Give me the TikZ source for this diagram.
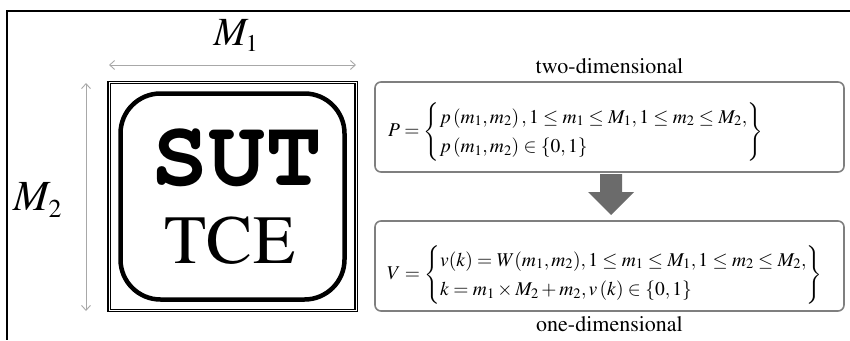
\documentclass[tikz,border=0pt]{standalone}
\usepackage[T1]{fontenc}
\usepackage{mathptmx}
\usetikzlibrary{arrows.meta,positioning}
\definecolor{dimgray}{HTML}{A8A8A8}
\definecolor{boxgray}{HTML}{7F7F7F}
\definecolor{arrowgray}{HTML}{6B6B6B}
\renewcommand{\arraystretch}{1.3}

\begin{document}
\begin{tikzpicture}[x=1pt, y=-1pt,
    dimarrow/.style={{Straight Barb[length=5pt,width=9pt]}-{Straight Barb[length=5pt,width=9pt]},
                     draw=dimgray, line width=0.9pt},
    eqbox/.style={draw=boxgray, line width=1.6pt, rounded corners=6pt,
                  minimum width=469pt, minimum height=90pt, inner sep=0pt},
    caption/.style={font=\fontsize{22}{26}\selectfont, inner sep=0pt},
    dimlabel/.style={font=\fontsize{40}{44}\selectfont, inner sep=0pt},
    formula/.style={font=\fontsize{19.5}{23}\selectfont, anchor=west, inner sep=0pt},
]
\useasboundingbox (0,0) rectangle (850,340);
\draw[line width=2.5pt] (850,11) -- (7,11) -- (7,340);

% the binary image
\node[draw, double=white, double distance=1pt, line width=1.2pt,
      minimum width=247pt, minimum height=228pt, inner sep=0pt] (img) at (232.5,196.5) {};
\node[draw, line width=4.5pt, rounded corners=40pt, minimum width=224pt,
      minimum height=206pt, inner sep=0pt] (logo) at (232.5,196.5) {};
\node[inner sep=0pt, font=\fontfamily{pcr}\bfseries\fontsize{95}{98}\selectfont] (sut) at (236.5,158.5) {SUT};
\node[inner sep=0pt, font=\fontsize{69}{72}\selectfont] (tce) at (230,240) {TCE};

% dimensions
\coordinate (w1) at (109,65);
\coordinate (w2) at (356,65);
\coordinate (h1) at (86,83);
\coordinate (h2) at (86,311);
\draw[dimarrow] (w1) -- (w2);
\draw[dimarrow] (h1) -- (h2);
\node[dimlabel] (m1) at (236,36) {$M_{\scriptscriptstyle 1}$};
\node[dimlabel, font=\fontsize{43}{46}\selectfont] (m2) at (38,200) {$M_{\scriptscriptstyle 2}$};

% the two descriptions
\node[eqbox] (two) at (609.5,127) {};
\node[eqbox] (one) at (609.5,266) {};
\node[caption, above=7pt of two] (twocap) {two-dimensional};
\node[caption, below=5pt of one] (onecap) {one-dimensional};

\node[formula] (peq) at (388,132) {$P=\left\{\begin{array}{@{}l@{}}
    p\left(m_1,m_2\right),1\le m_1\le M_1,1\le m_2\le M_2,\\
    p\left(m_1,m_2\right)\in\{0,1\}\end{array}\right\}$};
\node[formula] (veq) at (387,275) {$V=\left\{\begin{array}{@{}l@{}}
    v(k)=W(m_1,m_2),1\le m_1\le M_1,1\le m_2\le M_2,\\
    k=m_1\times M_2+m_2,v\left(k\right)\in\{0,1\}\end{array}\right\}$};

% block arrow
\coordinate (down) at (611,174);
\fill[arrowgray] ([shift={(-11,0)}]down) -- ++(0,18) -- ++(-12,0) -- ++(23,23)
    -- ++(23,-23) -- ++(-12,0) -- ++(0,-18) -- cycle;
\end{tikzpicture}
\end{document}
